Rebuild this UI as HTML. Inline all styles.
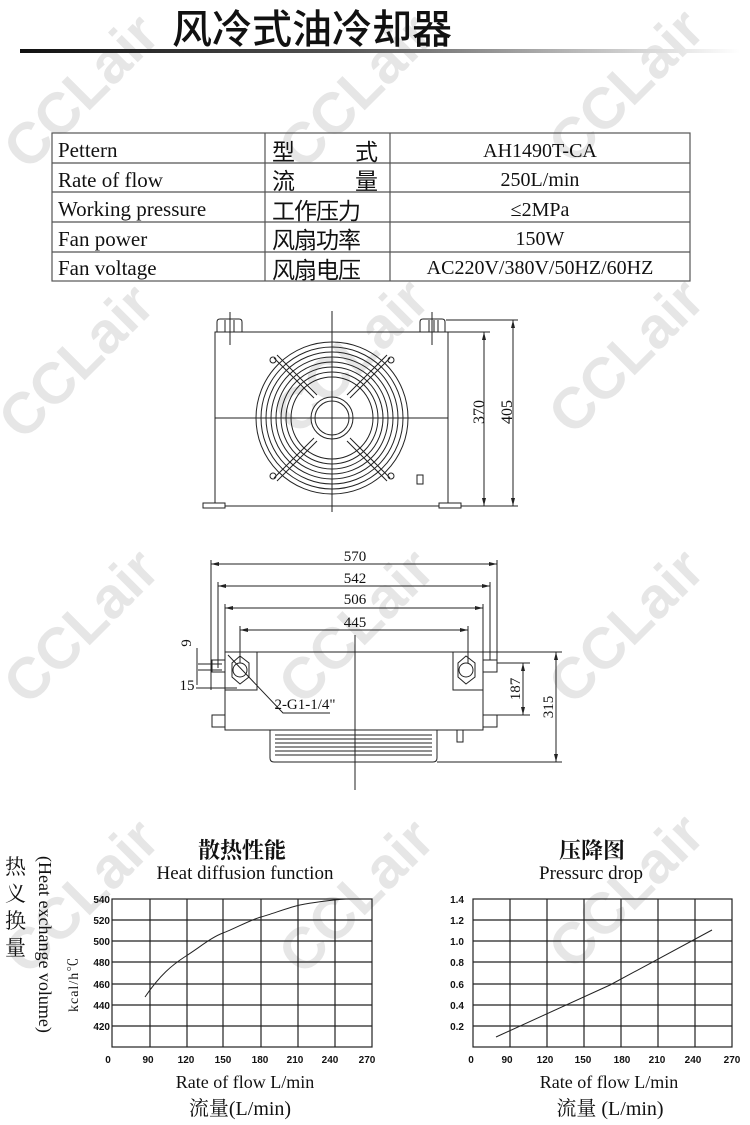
<!DOCTYPE html>
<html><head><meta charset="utf-8"><style>
html,body{margin:0;padding:0;background:#fff}
svg{display:block}
</style></head><body>
<svg width="750" height="1125" viewBox="0 0 750 1125" xmlns="http://www.w3.org/2000/svg" font-family="Liberation Serif, Noto Serif CJK SC, serif">
<defs>
<linearGradient id="rule" x1="0" x2="1" y1="0" y2="0">
<stop offset="0" stop-color="#111"/><stop offset="0.45" stop-color="#555"/><stop offset="1" stop-color="#fff"/>
</linearGradient>
</defs>
<g fill="#e6e6e6" font-family="Liberation Sans, sans-serif" font-weight="bold" font-size="58">
<text transform="translate(95,105) rotate(-45)" text-anchor="middle">CCLair</text>
<text transform="translate(370,105) rotate(-45)" text-anchor="middle">CCLair</text>
<text transform="translate(640,100) rotate(-45)" text-anchor="middle">CCLair</text>
<text transform="translate(90,375) rotate(-45)" text-anchor="middle">CCLair</text>
<text transform="translate(365,370) rotate(-45)" text-anchor="middle">CCLair</text>
<text transform="translate(640,370) rotate(-45)" text-anchor="middle">CCLair</text>
<text transform="translate(95,640) rotate(-45)" text-anchor="middle">CCLair</text>
<text transform="translate(370,640) rotate(-45)" text-anchor="middle">CCLair</text>
<text transform="translate(640,640) rotate(-45)" text-anchor="middle">CCLair</text>
<text transform="translate(95,910) rotate(-45)" text-anchor="middle">CCLair</text>
<text transform="translate(370,910) rotate(-45)" text-anchor="middle">CCLair</text>
<text transform="translate(640,905) rotate(-45)" text-anchor="middle">CCLair</text>
</g>
<text x="172" y="43" font-family="Liberation Sans, Noto Sans CJK SC, sans-serif" font-weight="500" font-size="40" fill="#111">风冷式油冷却器</text>
<rect x="20" y="49" width="720" height="4" fill="url(#rule)"/>
<g stroke="#555" stroke-width="1.2" fill="none">
<rect x="52" y="133" width="638" height="148"/>
<line x1="52" y1="163" x2="690" y2="163"/><line x1="52" y1="192" x2="690" y2="192"/>
<line x1="52" y1="222" x2="690" y2="222"/><line x1="52" y1="252" x2="690" y2="252"/>
<line x1="265" y1="133" x2="265" y2="281"/><line x1="390" y1="133" x2="390" y2="281"/>
</g>
<g font-size="21" fill="#111">
<text x="58" y="157">Pettern</text><text x="58" y="187">Rate of flow</text><text x="58" y="216">Working pressure</text><text x="58" y="246">Fan power</text><text x="58" y="275">Fan voltage</text>
<g font-family="Liberation Sans, Noto Sans CJK SC, sans-serif" font-size="23">
<text x="272" y="160">型</text><text x="355" y="160">式</text>
<text x="272" y="189">流</text><text x="355" y="189">量</text>
<text x="272" y="219" letter-spacing="-1">工作压力</text><text x="272" y="248" letter-spacing="-1">风扇功率</text><text x="272" y="278" letter-spacing="-1">风扇电压</text>
</g>
<g text-anchor="middle" font-size="20"><text x="540" y="157">AH1490T-CA</text><text x="540" y="186">250L/min</text><text x="540" y="216">≤2MPa</text><text x="540" y="245">150W</text><text x="540" y="274">AC220V/380V/50HZ/60HZ</text></g>
</g>
<g stroke="#222" stroke-width="1" fill="none">
<rect x="215" y="332" width="233" height="174"/>
<rect x="203" y="503" width="22" height="5" fill="#fff"/><rect x="439" y="503" width="22" height="5" fill="#fff"/>
<path d="M217 332 v-10 q0-3 3-3 h19 q3 0 3 3 v10"/><path d="M420 332 v-10 q0-3 3-3 h19 q3 0 3 3 v10"/>
<line x1="225" y1="320" x2="225" y2="332"/><line x1="230" y1="320" x2="230" y2="332"/><line x1="234" y1="320" x2="234" y2="332"/>
<line x1="429" y1="320" x2="429" y2="332"/><line x1="434" y1="320" x2="434" y2="332"/><line x1="438" y1="320" x2="438" y2="332"/>
<line x1="230" y1="312" x2="230" y2="345"/><line x1="432" y1="312" x2="432" y2="345"/>
<circle cx="332" cy="418" r="76"/><circle cx="332" cy="418" r="71"/><circle cx="332" cy="418" r="66"/><circle cx="332" cy="418" r="61"/><circle cx="332" cy="418" r="56"/><circle cx="332" cy="418" r="51"/><circle cx="332" cy="418" r="46"/><circle cx="332" cy="418" r="41"/>
<circle cx="332" cy="418" r="21" fill="#fff"/><circle cx="332" cy="418" r="17"/>
<path d="M274 358 L314 398 M277 355 L317 395 M390 358 L350 398 M387 355 L347 395 M274 478 L314 438 M277 481 L317 441 M390 478 L350 438 M387 481 L347 441"/>
<circle cx="273" cy="360" r="3"/><circle cx="391" cy="360" r="3"/><circle cx="273" cy="476" r="3"/><circle cx="391" cy="476" r="3"/>
<line x1="215" y1="418" x2="448" y2="418"/><line x1="332" y1="311" x2="332" y2="512"/>
<rect x="417" y="475" width="6" height="9"/>
<line x1="448" y1="332" x2="490" y2="332"/><line x1="446" y1="320" x2="518" y2="320"/><line x1="461" y1="506" x2="518" y2="506"/>
<line x1="484" y1="332" x2="484" y2="506"/><line x1="513" y1="320" x2="513" y2="506"/>
</g>
<g fill="#222"><path d="M484 332 l-2 8 h4z M484 506 l-2 -8 h4z M513 320 l-2 8 h4z M513 506 l-2 -8 h4z"/></g>
<g font-size="16" fill="#111" text-anchor="middle">
<text transform="translate(484,412) rotate(-90)">370</text>
<text transform="translate(512,412) rotate(-90)">405</text>
</g>
<g stroke="#222" stroke-width="1" fill="none">
<rect x="225" y="652" width="258" height="78"/>
<path d="M270 730 v28 q0 4 4 4 h159 q4 0 4 -4 v-28"/>
<path d="M275 735 h157 M275 739 h157 M275 743 h157 M275 747 h157 M275 751 h157 M275 755 h157"/>
<rect x="225" y="652" width="32" height="38"/><rect x="453" y="652" width="30" height="38"/>
<polygon points="232,663 240,656 249,663 249,677 240,684 232,677"/><circle cx="240" cy="670" r="7"/>
<polygon points="458,663 466,656 475,663 475,677 466,684 458,677"/><circle cx="466" cy="670" r="7"/>
<rect x="212" y="660" width="13" height="12"/><rect x="483" y="660" width="14" height="12"/>
<rect x="212" y="715" width="13" height="12"/><rect x="483" y="715" width="14" height="12"/>
<rect x="457" y="730" width="6" height="12"/>
<line x1="211" y1="560" x2="211" y2="690"/><line x1="497" y1="560" x2="497" y2="670"/>
<line x1="218" y1="582" x2="218" y2="668"/><line x1="490" y1="582" x2="490" y2="660"/>
<line x1="225" y1="604" x2="225" y2="652"/><line x1="483" y1="604" x2="483" y2="652"/>
<line x1="240" y1="626" x2="240" y2="663"/><line x1="468" y1="626" x2="468" y2="663"/>
<line x1="211" y1="564" x2="497" y2="564"/><line x1="218" y1="586" x2="490" y2="586"/>
<line x1="225" y1="608" x2="483" y2="608"/><line x1="240" y1="630" x2="468" y2="630"/>
<line x1="355" y1="635" x2="355" y2="790"/>
<line x1="483" y1="652" x2="562" y2="652"/><line x1="437" y1="762" x2="562" y2="762"/>
<line x1="497" y1="663" x2="530" y2="663"/><line x1="497" y1="715" x2="530" y2="715"/>
<line x1="523" y1="663" x2="523" y2="715"/><line x1="556" y1="652" x2="556" y2="762"/>
<line x1="198" y1="664" x2="222" y2="664"/><line x1="198" y1="670" x2="222" y2="670"/>
<line x1="196" y1="688" x2="237" y2="688"/>
<line x1="197" y1="648" x2="197" y2="685"/>
<path d="M228 655 L283 713 H330"/>
</g>
<g fill="#222"><path d="M211 564 l8 -2 v4z M497 564 l-8 -2 v4z M218 586 l8 -2 v4z M490 586 l-8 -2 v4z M225 608 l8 -2 v4z M483 608 l-8 -2 v4z M240 630 l8 -2 v4z M468 630 l-8 -2 v4z M523 663 l-2 8 h4z M523 715 l-2 -8 h4z M556 652 l-2 8 h4z M556 762 l-2 -8 h4z"/></g>
<g font-size="15" fill="#111" text-anchor="middle">
<text x="355" y="561">570</text><text x="355" y="583">542</text><text x="355" y="604">506</text><text x="355" y="627">445</text>
<text x="305" y="709">2-G1-1/4"</text>
<text transform="translate(520,689) rotate(-90)">187</text>
<text transform="translate(553,707) rotate(-90)">315</text>
<text transform="translate(191,643) rotate(-90)">9</text>
<text x="187" y="690">15</text>
</g>
<g font-family="Liberation Serif, Noto Serif CJK SC, serif" fill="#111" text-anchor="middle">
<text x="242" y="858" font-size="22" font-weight="bold">散热性能</text>
<text x="245" y="879" font-size="19">Heat diffusion function</text>
<text x="592" y="858" font-size="22" font-weight="bold">压降图</text>
<text x="591" y="879" font-size="19">Pressurc drop</text>
<text x="245" y="1088" font-size="18">Rate of flow L/min</text>
<text x="240" y="1115" font-size="20">流量(L/min)</text>
<text x="609" y="1088" font-size="18">Rate of flow L/min</text>
<text x="610" y="1115" font-size="20">流量 (L/min)</text>
</g>
<g font-size="21" fill="#111" font-family="Liberation Serif, Noto Serif CJK SC, serif">
<text x="5" y="874">热</text><text x="5" y="901">义</text><text x="5" y="928">换</text><text x="5" y="955">量</text>
</g>
<text transform="translate(39,856) rotate(90)" font-size="18" fill="#111">(Heat exchange volume)</text>
<text transform="translate(78,1012) rotate(-90)" font-size="14" fill="#111" letter-spacing="1">kcal/h℃</text>
<g stroke="#222" stroke-width="1.2" fill="none">
<rect x="112" y="899" width="260" height="148"/>
<path d="M150 899V1047 M187 899V1047 M223 899V1047 M261 899V1047 M298 899V1047 M335 899V1047"/>
<path d="M112 920H372 M112 941H372 M112 962H372 M112 984H372 M112 1005H372 M112 1026H372"/>
<rect x="473" y="899" width="259" height="148"/>
<path d="M510 899V1047 M547 899V1047 M584 899V1047 M621 899V1047 M658 899V1047 M695 899V1047"/>
<path d="M473 920H732 M473 941H732 M473 962H732 M473 984H732 M473 1005H732 M473 1026H732"/>
</g>
<g stroke="#222" stroke-width="1" fill="none">
<path d="M145 997 C160 975 172 965 186 956 S212 937 223 933 S250 920 261 917 S290 907 300 905 S330 900 346 899"/>
<path d="M496 1037 L610 985 L712 930"/>
</g>
<g font-family="Liberation Sans, sans-serif" font-weight="bold" font-size="10" fill="#111">
<g text-anchor="end"><text x="110" y="903">540</text><text x="110" y="924">520</text><text x="110" y="945">500</text><text x="110" y="966">480</text><text x="110" y="988">460</text><text x="110" y="1009">440</text><text x="110" y="1030">420</text>
<text x="464" y="903">1.4</text><text x="464" y="924">1.2</text><text x="464" y="945">1.0</text><text x="464" y="966">0.8</text><text x="464" y="988">0.6</text><text x="464" y="1009">0.4</text><text x="464" y="1030">0.2</text></g>
<g text-anchor="middle"><text x="108" y="1063">0</text><text x="148" y="1063">90</text><text x="186" y="1063">120</text><text x="223" y="1063">150</text><text x="260" y="1063">180</text><text x="295" y="1063">210</text><text x="330" y="1063">240</text><text x="367" y="1063">270</text>
<text x="471" y="1063">0</text><text x="507" y="1063">90</text><text x="545" y="1063">120</text><text x="583" y="1063">150</text><text x="622" y="1063">180</text><text x="657" y="1063">210</text><text x="693" y="1063">240</text><text x="732" y="1063">270</text></g>
</g>
</svg>
</body></html>
